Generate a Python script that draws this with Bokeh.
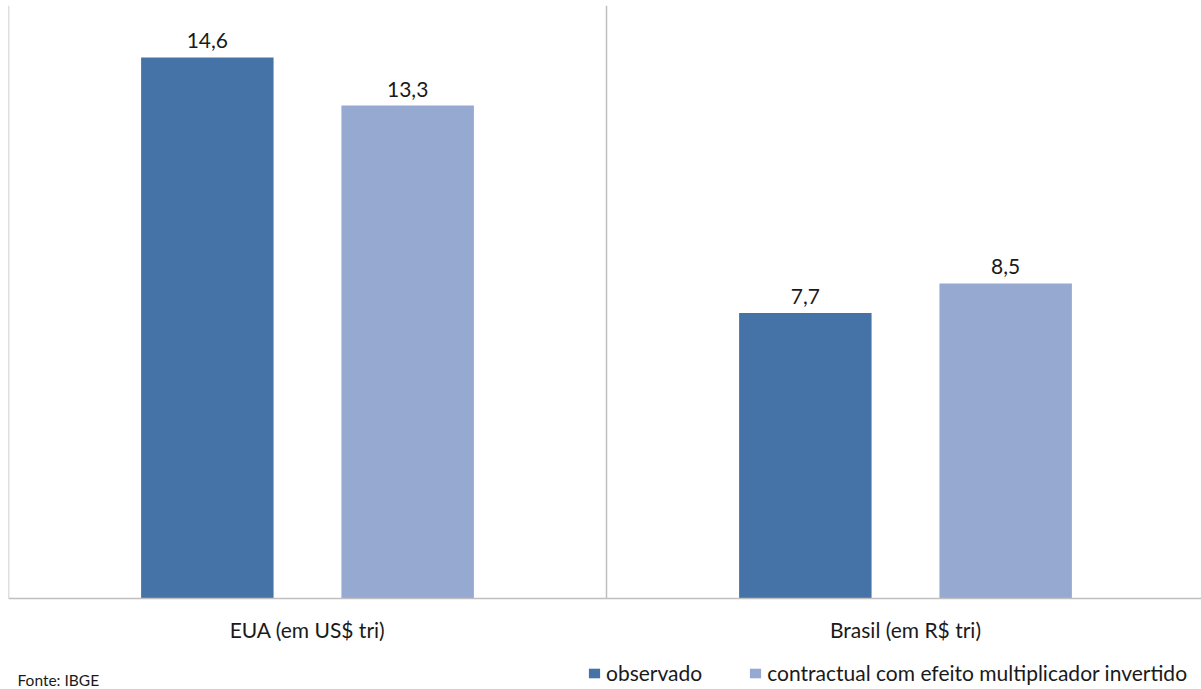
from bokeh.plotting import figure
from bokeh.models import Range1d, Label, Legend, LegendItem
from bokeh.embed import file_html
from bokeh.resources import INLINE
from bokeh.core.properties import value

categories = ["EUA (em US$ tri)", "Brasil (em R$ tri)"]
series_names = ["observado", "contractual com efeito multiplicador invertido"]
observado = [14.6, 7.7]
contractual = [13.3, 8.5]
labels_observado = ["14,6", "7,7"]
labels_contractual = ["13,3", "8,5"]
source_note = "Fonte: IBGE"

FONT = "Lato"
FS = "21px"
C_OBS = "#4572A7"
C_CON = "#95A9D1"
GRAY = "#BFBFBF"
TXT = "#1a1a1a"

YMAX = 16.0
PLOT_H = 593.0        # pixel height of the value area (0..YMAX)
BELOW = 91.0          # pixels below the baseline
CAT_W = 598.0         # pixels per category
FRAME_W = 1193.0

p = figure(width=1201, height=689,
           x_range=Range1d(0, FRAME_W / CAT_W),
           y_range=Range1d(-BELOW / PLOT_H * YMAX, YMAX),
           output_backend="svg", toolbar_location=None,
           x_axis_location=None, y_axis_location=None,
           min_border_left=8, min_border_right=0, min_border_top=5, min_border_bottom=0)
p.outline_line_color = None
p.grid.visible = False
p.background_fill_color = "white"
p.border_fill_color = "white"

centers = [i + 0.5 for i in range(len(categories))]
off = 0.1675
bw = 0.2215
x_obs = [c - off for c in centers]
x_con = [c + off for c in centers]

r1 = p.vbar(x=x_obs, top=observado, width=bw, fill_color=C_OBS, line_color=None)
r2 = p.vbar(x=x_con, top=contractual, width=bw, fill_color=C_CON, line_color=None)

p.text(x=x_obs, y=observado, text=labels_observado, y_offset=-9, text_align="center",
       text_baseline="bottom", text_font=value(FONT), text_font_size=FS, text_color=TXT)
p.text(x=x_con, y=contractual, text=labels_contractual, y_offset=-9, text_align="center",
       text_baseline="bottom", text_font=value(FONT), text_font_size=FS, text_color=TXT)

# axis lines: baseline, left axis, category divider
n = len(categories)
p.segment(x0=[0], y0=[0], x1=[FRAME_W / CAT_W], y1=[0], line_color=GRAY, line_width=1.5)
p.segment(x0=list(range(n)), y0=[0] * n, x1=list(range(n)), y1=[YMAX] * n,
          line_color=GRAY, line_width=1.5)

# category labels
p.text(x=centers, y=[0] * n, text=categories, y_offset=31, text_align="center",
       text_baseline="middle", text_font=value(FONT), text_font_size=FS, text_color=TXT)

legend = Legend(items=[LegendItem(label=series_names[0], renderers=[r1]),
                       LegendItem(label=series_names[1], renderers=[r2])],
                location=(579, 4), orientation="horizontal", padding=0, margin=0,
                spacing=46, glyph_width=14, glyph_height=12, label_standoff=5,
                label_text_font=FONT, label_text_font_size=FS, label_text_color=TXT,
                border_line_color=None, background_fill_alpha=0)
p.add_layout(legend, "center")

p.add_layout(Label(x=9, y=10, x_units="screen", y_units="screen", text=source_note,
                   text_font=FONT, text_font_size="15.5px", text_color=TXT,
                   text_baseline="middle"))

open("out.html", "w").write(file_html(p, INLINE))
